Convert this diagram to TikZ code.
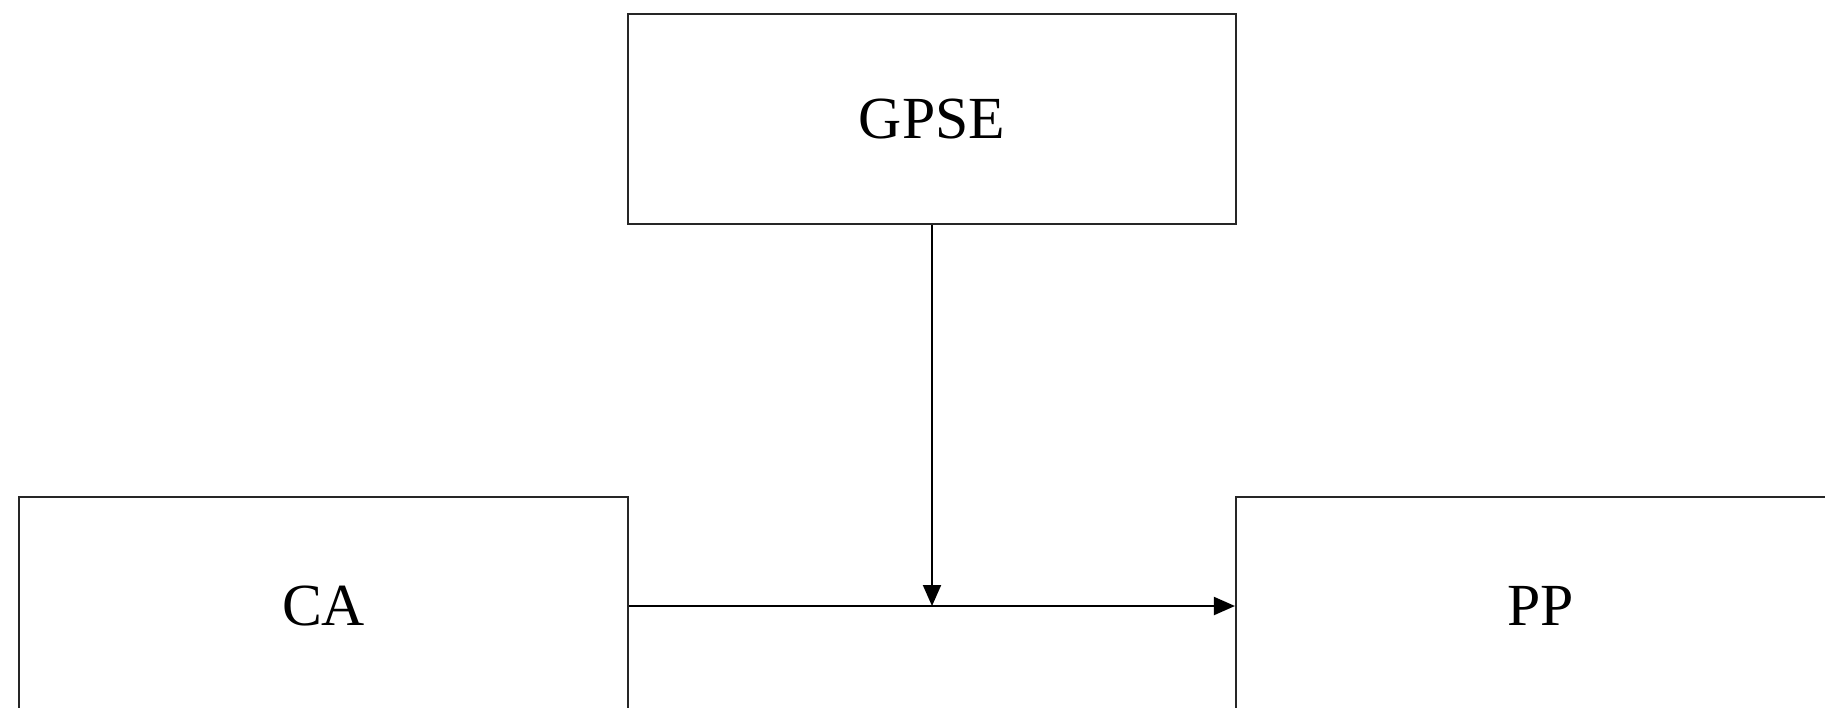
\documentclass[tikz,border=0pt]{standalone}
\usepackage{fontspec}
\setmainfont{Liberation Serif}
\usetikzlibrary{arrows.meta}
\begin{document}
\begin{tikzpicture}[x=0.02cm,y=-0.02cm,
  box/.style={draw=black!85, line width=0.045cm, rectangle, inner sep=0pt, font=\fontsize{34}{40}\selectfont},
  conn/.style={draw=black, line width=0.04cm, -{Triangle[length=0.42cm,width=0.36cm]}}]
\useasboundingbox (0,0) rectangle (1825,707);
\clip (0,0) rectangle (1825,707);
\fill[white] (0,0) rectangle (1825,707);
\node[box, minimum width=12.16cm, minimum height=4.2cm] (gpse) at (932,119) {GPSE};
\node[box, minimum width=12.18cm, minimum height=4.36cm] (ca) at (323.5,606) {CA};
\node[box, minimum width=12.18cm, minimum height=4.36cm] (pp) at (1540.5,606) {PP};
\draw[conn] (ca.east) -- (pp.west);
\coordinate (meet) at (gpse.south |- ca.east);
\draw[conn] (gpse.south) -- (meet);
\end{tikzpicture}
\end{document}
